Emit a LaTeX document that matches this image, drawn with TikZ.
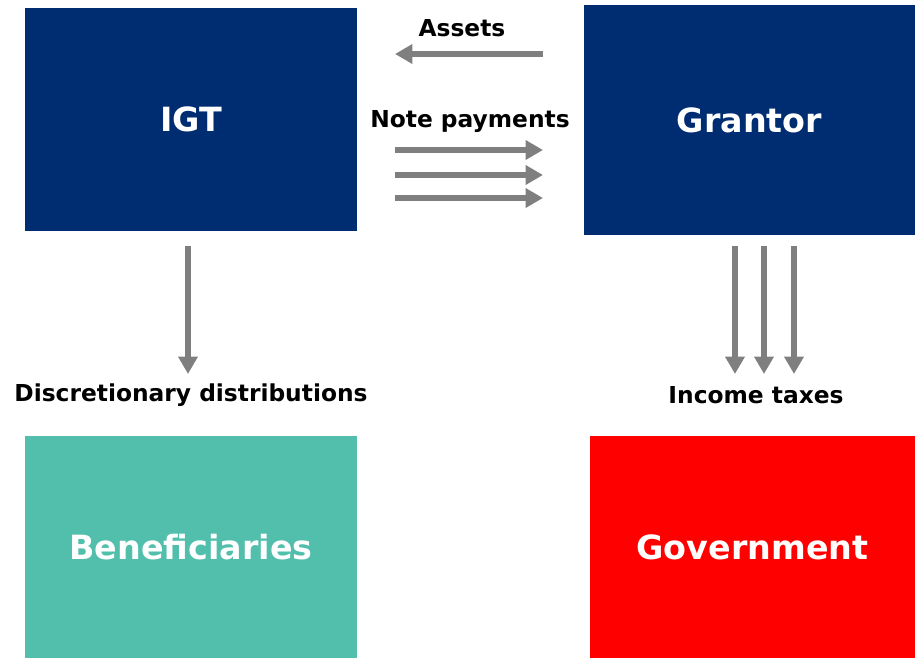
\documentclass[tikz,border=0pt]{standalone}
\usepackage{fontspec}
\setmainfont{DejaVu Sans}
\usetikzlibrary{arrows.meta}

\definecolor{navy}{RGB}{0,45,114}
\definecolor{teal}{RGB}{82,191,173}
\definecolor{flowgray}{RGB}{127,127,127}

\tikzset{
  party/.style={inner sep=0pt, text=white, font=\bfseries\fontsize{25}{28}\selectfont},
  flow/.style={draw=flowgray, line width=4.5pt, -{Triangle[length=13pt,width=14pt]}},
  flowlabel/.style={font=\bfseries\fontsize{17.5}{20}\selectfont, text=black}
}

\begin{document}
\begin{tikzpicture}[x=0.75pt,y=-0.75pt]
\useasboundingbox (0,0) rectangle (915,658);

\node[party, fill=navy, minimum width=249pt, minimum height=167.25pt] (IGT) at (191,119.5) {IGT};
\node[party, fill=navy, minimum width=248.25pt, minimum height=172.5pt] (Grantor) at (749.5,120) {Grantor};
\node[party, fill=teal, minimum width=249pt, minimum height=166.5pt] (Beneficiaries) at (191,547) {Beneficiaries};
\node[party, fill=red, minimum width=243.75pt, minimum height=166.5pt] (Government) at (752.5,547) {Government};

% flow end points
\coordinate (assetsfrom) at (543,54);
\coordinate (assetsto) at (395,54);
\coordinate (distfrom) at (188,246);
\coordinate (distto) at (188,374);

\draw[flow] (assetsfrom) -- (assetsto);
\node[flowlabel] (assets) at (462,28) {Assets};

\node[flowlabel] (notes) at (470,122) {Note payments};
\foreach \y in {150,175,198}
  \draw[flow] (395,\y) coordinate (notefrom\y) -- (543,\y) coordinate (noteto\y);

\draw[flow] (distfrom) -- (distto);
\node[flowlabel] (dist) at (191,395) {Discretionary distributions};

\foreach \x in {735,764,794}
  \draw[flow] (\x,246) coordinate (taxfrom\x) -- (\x,374) coordinate (taxto\x);
\node[flowlabel] (taxes) at (756,395) {Income taxes};
\end{tikzpicture}
\end{document}
